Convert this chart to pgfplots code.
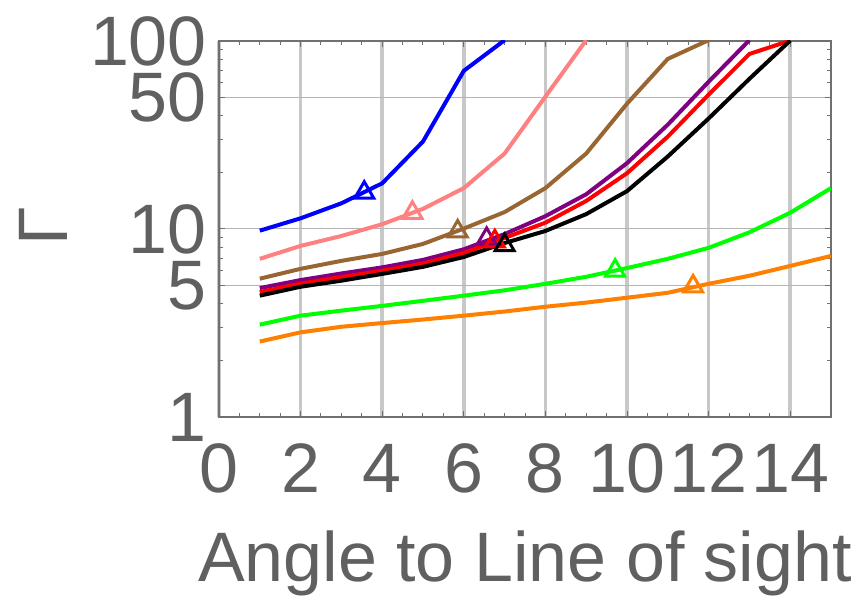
\documentclass[border=0pt]{standalone}
\usepackage{fontspec}
\setmainfont{Liberation Sans}
\usepackage{pgfplots}
\pgfplotsset{compat=1.18}

\definecolor{txtgray}{HTML}{606060}
\definecolor{framegray}{HTML}{707070}
\definecolor{vgrid}{HTML}{C8C8C8}
\definecolor{hgrid}{HTML}{B4B4B4}
\definecolor{cblue}{HTML}{0000FF}
\definecolor{cpink}{HTML}{FF8080}
\definecolor{cbrown}{HTML}{996633}
\definecolor{cpurple}{HTML}{800080}
\definecolor{cred}{HTML}{FF0000}
\definecolor{cblack}{HTML}{000000}
\definecolor{cgreen}{HTML}{00FF00}
\definecolor{corange}{HTML}{FF8000}

\pgfplotsset{
  curve/.style={line width=4pt, line join=round, mark=none},
  tri/.style={only marks, mark=triangle, mark size=11pt,
    mark options={line width=3pt, fill=none}},
}

\begin{document}
\begin{tikzpicture}
\path[use as bounding box] (-219pt,-179pt) rectangle (638pt,417pt);
\begin{axis}[
  at={(0,0)}, anchor=south west,
  scale only axis, width=612pt, height=376pt,
  xmin=0, xmax=15, ymin=1, ymax=100, ymode=log,
  axis line style={framegray, line width=1.2pt},
  xtick={0,2,4,6,8,10,12,14},
  xticklabels={0,2,4,6,8,10,12,14},
  minor x tick num=3,
  ytick={1,5,10,50,100},
  yticklabels={1,5,10,50,100},
  minor ytick={2,3,4,6,7,8,9,20,30,40,60,70,80,90},
  tick align=inside,
  major tick length=6pt, minor tick length=4pt,
  tick style={framegray, line width=1pt},
  tick label style={font=\fontsize{70}{84}\selectfont, text=txtgray, inner sep=0pt},
  xticklabel style={anchor=base, yshift=-75pt},
  yticklabel style={anchor=east, xshift=-12pt},
  xmajorgrids, ymajorgrids,
  x grid style={vgrid, line width=3.5pt},
  y grid style={hgrid, line width=1pt},
  xlabel={Angle to Line of sight},
  xlabel style={font=\fontsize{70}{84}\selectfont, text=txtgray, inner sep=0pt,
    at={(axis description cs:0.5,-0.4388)}, anchor=base},
  ylabel={Γ},
  ylabel style={font=\fontsize{70}{84}\selectfont, text=txtgray, inner sep=0pt,
    at={(axis description cs:-0.2467,0.508)}, anchor=south, rotate=0},
]
% curves
\addplot[curve, cblue] coordinates {(1,9.8)(2,11.4)(3,13.7)(4,17.5)(5,29.2)(6,69.4)(7,101)};
\addplot[curve, cpink] coordinates {(1,6.94)(2,8.13)(3,9.18)(4,10.6)(5,12.8)(6,16.5)(7,25.2)(8,50.6)(9,101)};
\addplot[curve, cbrown] coordinates {(1,5.44)(2,6.14)(3,6.77)(4,7.37)(5,8.33)(6,10.05)(7,12.3)(8,16.5)(9,25.2)(10,46.4)(11,80.3)(12,101)};
\addplot[curve, cpurple] coordinates {(1,4.85)(2,5.35)(3,5.8)(4,6.25)(5,6.85)(6,7.8)(7,9.4)(8,11.7)(9,15.3)(10,22.4)(11,35.9)(12,60.7)(13,101)};
\addplot[curve, cred] coordinates {(1,4.62)(2,5.12)(3,5.55)(4,6.0)(5,6.55)(6,7.45)(7,8.96)(8,10.8)(9,14.1)(10,19.8)(11,31.0)(12,51.8)(13,85.3)(14,100.5)};
\addplot[curve, cblack] coordinates {(1,4.42)(2,4.93)(3,5.31)(4,5.77)(5,6.29)(6,7.1)(7,8.42)(8,9.76)(9,12.0)(10,15.9)(11,24.3)(12,38.7)(13,62.9)(14,100.5)};
\addplot[curve, cgreen] coordinates {(1,3.10)(2,3.46)(3,3.68)(4,3.9)(5,4.15)(6,4.42)(7,4.72)(8,5.11)(9,5.57)(10,6.2)(11,6.94)(12,7.94)(13,9.6)(14,12.2)(15,16.5)};
\addplot[curve, corange] coordinates {(1,2.52)(2,2.82)(3,3.02)(4,3.16)(5,3.30)(6,3.46)(7,3.64)(8,3.86)(9,4.06)(10,4.31)(11,4.58)(12,5.11)(13,5.64)(14,6.36)(15,7.19)};
% open triangle markers on each curve
\addplot[tri, cblue] coordinates {(3.56,15.6)};
\addplot[tri, cpink] coordinates {(4.74,12.2)};
\addplot[tri, cbrown] coordinates {(5.85,9.7)};
\addplot[tri, cpurple] coordinates {(6.56,8.85)};
\addplot[tri, cred] coordinates {(6.76,8.6)};
\addplot[tri, cblack] coordinates {(7.0,8.2)};
\addplot[tri, cgreen] coordinates {(9.71,6.0)};
\addplot[tri, corange] coordinates {(11.62,4.95)};
\end{axis}
\end{tikzpicture}
\end{document}
